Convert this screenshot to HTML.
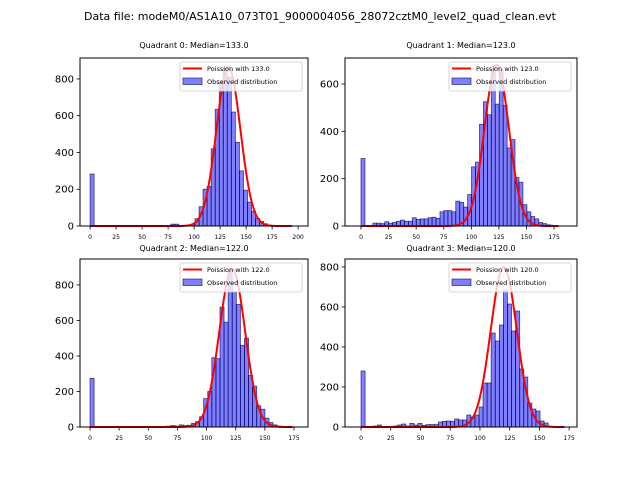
<!DOCTYPE html>
<html><head><meta charset="utf-8"><style>
body{margin:0;background:#fff}
svg{display:block;font-family:"DejaVu Sans","Liberation Sans",sans-serif}
</style></head><body>
<svg id="c" width="640" height="480">
<text x="320" y="20" font-size="11" text-anchor="middle">Data file: modeM0/AS1A10_073T01_9000004056_28072cztM0_level2_quad_clean.evt</text>
</svg>
<script>
// Quadrant 0
const q0Edges=[0,77.6,81.5,97,100.9,104.8,108.6,112.5,116.4,120.3,124.2,128,131.9,135.8,139.7,143.6,147.4,151.3,155.2,159.1,163,166.8,170.7,174.6];
const q0Counts=[283,10,10,10,40,105,200,215,420,635,790,860,810,620,455,300,195,130,80,40,25,12,5,3];
const q0Median=133, q0Amp=865;
// Quadrant 1
const q1Edges=[0,10.7,14.3,17.9,21.5,25.1,28.6,32.2,35.8,39.4,43,46.5,50.1,53.7,57.3,60.9,64.4,68,71.6,75.2,78.8,82.3,85.9,89.5,93.1,96.7,100.2,103.8,107.4,111,114.6,118.1,121.7,125.3,128.9,132.5,136,139.6,143.2,146.8,150.4,153.9,157.5,161.1,164.7,168.3,171.8,175.4];
const q1Counts=[285,12,12,10,18,12,15,20,25,20,20,35,28,30,30,35,37,32,60,65,65,60,105,100,80,133,250,270,430,525,470,660,515,660,510,330,365,205,185,90,60,40,30,15,10,5,3];
const q1Median=123, q1Amp=680;
// Quadrant 2
const q2Edges=[0,66,69.5,73,76.5,80,83.5,87,90.5,94,97.5,101,104.5,108,111.5,115,118.5,122,125.5,129,132.5,136,139.5,143,146.5,150,153.5,157,160.5];
const q2Counts=[274,5,8,5,12,8,10,20,30,58,160,200,390,385,675,590,880,760,690,460,500,290,230,120,100,50,25,12,5];
const q2Median=122, q2Amp=890;
// Quadrant 3
const q3Edges=[0,10.3,13.7,23.9,27.4,30.8,34.2,37.6,41,44.5,47.9,51.3,54.7,58.1,61.6,65,68.4,71.8,75.2,78.7,82.1,85.5,88.9,92.3,95.8,99.2,102.6,106,109.4,112.9,116.3,119.7,123.1,126.5,130,133.4,136.8,140.2,143.6,147.1,150.5,153.9];
const q3Counts=[280,5,10,3,5,10,15,5,18,10,18,8,12,12,12,25,28,30,28,40,35,35,60,50,60,100,220,220,470,430,510,685,615,480,580,290,250,120,90,80,30,20];
const q3Median=120, q3Amp=800;

const quads=[
 {edges:q0Edges,counts:q0Counts,med:q0Median,amp:q0Amp,bw:3.88,xmax:194,L:80,R:308,T:58,B:226,x0:-9.7,x1:209.5,ymax:914,xt:[0,25,50,75,100,125,150,175,200],yt:[0,200,400,600,800],title:"Quadrant 0: Median=133.0",ty:48},
 {edges:q1Edges,counts:q1Counts,med:q1Median,amp:q1Amp,bw:3.58,xmax:179,L:345,R:577,T:58,B:226,x0:-14.5,x1:195.8,ymax:710,xt:[0,25,50,75,100,125,150,175],yt:[0,200,400,600],title:"Quadrant 1: Median=123.0",ty:48},
 {edges:q2Edges,counts:q2Counts,med:q2Median,amp:q2Amp,bw:3.5,xmax:174,L:80,R:308,T:259,B:427,x0:-8.6,x1:187,ymax:946,xt:[0,25,50,75,100,125,150,175],yt:[0,200,400,600,800],title:"Quadrant 2: Median=122.0",ty:251},
 {edges:q3Edges,counts:q3Counts,med:q3Median,amp:q3Amp,bw:3.42,xmax:171,L:345,R:577,T:259,B:427,x0:-13.5,x1:181.6,ymax:840,xt:[0,25,50,75,100,125,150,175],yt:[0,200,400,600,800],title:"Quadrant 3: Median=120.0",ty:251}
];
const svg=document.getElementById('c');
const NS='http://www.w3.org/2000/svg';
function mk(t,a,p){const e=document.createElementNS(NS,t);for(const k in a)e.setAttribute(k,a[k]);(p||svg).appendChild(e);return e;}
quads.forEach((q,i)=>{
 const g=mk('g',{});
 
 
 const X=v=>q.L+(v-q.x0)/(q.x1-q.x0)*(q.R-q.L);
 const Y=v=>q.B-v/q.ymax*(q.B-q.T);
 const t=mk('text',{x:(q.L+q.R)/2,y:q.ty,'font-size':'8','text-anchor':'middle'},g);t.textContent=q.title;
 
 
 q.edges.forEach((e,j)=>{
  const r=mk('rect',{x:X(e),y:Y(q.counts[j]),width:X(e+q.bw)-X(e),height:q.B-Y(q.counts[j]),fill:'rgba(0,0,255,0.5)',stroke:'rgba(0,0,80,0.7)','stroke-width':'0.8'},g);
  
  
 });
 let d='';
 for(let k=0;k<=300;k++){const v=q.xmax*k/300;const y=q.amp*Math.exp(-(v-q.med)*(v-q.med)/(2*q.med));d+=(k?'L':'M')+X(v).toFixed(2)+' '+Y(y).toFixed(2);}
 const pth=mk('path',{d:d,fill:'none',stroke:'#f00','stroke-width':'2'},g);
 
 
 const ax=mk('rect',{x:q.L,y:q.T,width:q.R-q.L,height:q.B-q.T,fill:'none',stroke:'#000','stroke-width':'1'},g);
 
 
 q.xt.forEach(v=>{mk('line',{x1:X(v),x2:X(v),y1:q.B,y2:q.B+3.5,stroke:'#000','stroke-width':'0.8'},g);
  const tx=mk('text',{x:X(v),y:q.B+13,'font-size':'6','text-anchor':'middle'},g);tx.textContent=v;
  
  });
 q.yt.forEach(v=>{mk('line',{x1:q.L-3.5,x2:q.L,y1:Y(v),y2:Y(v),stroke:'#000','stroke-width':'0.8'},g);
  const ty=mk('text',{x:q.L-6,y:Y(v)+3.5,'font-size':'10','text-anchor':'end'},g);ty.textContent=v;
  
  });
 const lg=mk('g',{},g);
 
 
 const lx=q.R-128,ly=q.T+4;
 mk('rect',{x:lx,y:ly,width:122,height:29,rx:2,fill:'rgba(255,255,255,0.8)',stroke:'#ccc','stroke-width':'0.8'},lg);
 mk('line',{x1:lx+3,x2:lx+22,y1:ly+6.5,y2:ly+6.5,stroke:'#f00','stroke-width':'2'},lg);
 mk('rect',{x:lx+3,y:ly+16,width:19,height:6.5,fill:'rgba(0,0,255,0.5)',stroke:'rgba(0,0,80,0.7)','stroke-width':'0.8'},lg);
 const l1=mk('text',{x:lx+27,y:ly+9,'font-size':'6.5'},lg);l1.textContent='Poission with '+q.med.toFixed(1);
 
 
 const l2=mk('text',{x:lx+27,y:ly+22,'font-size':'6.5'},lg);l2.textContent='Observed distribution';
 
 
});
</script>
</body></html>
